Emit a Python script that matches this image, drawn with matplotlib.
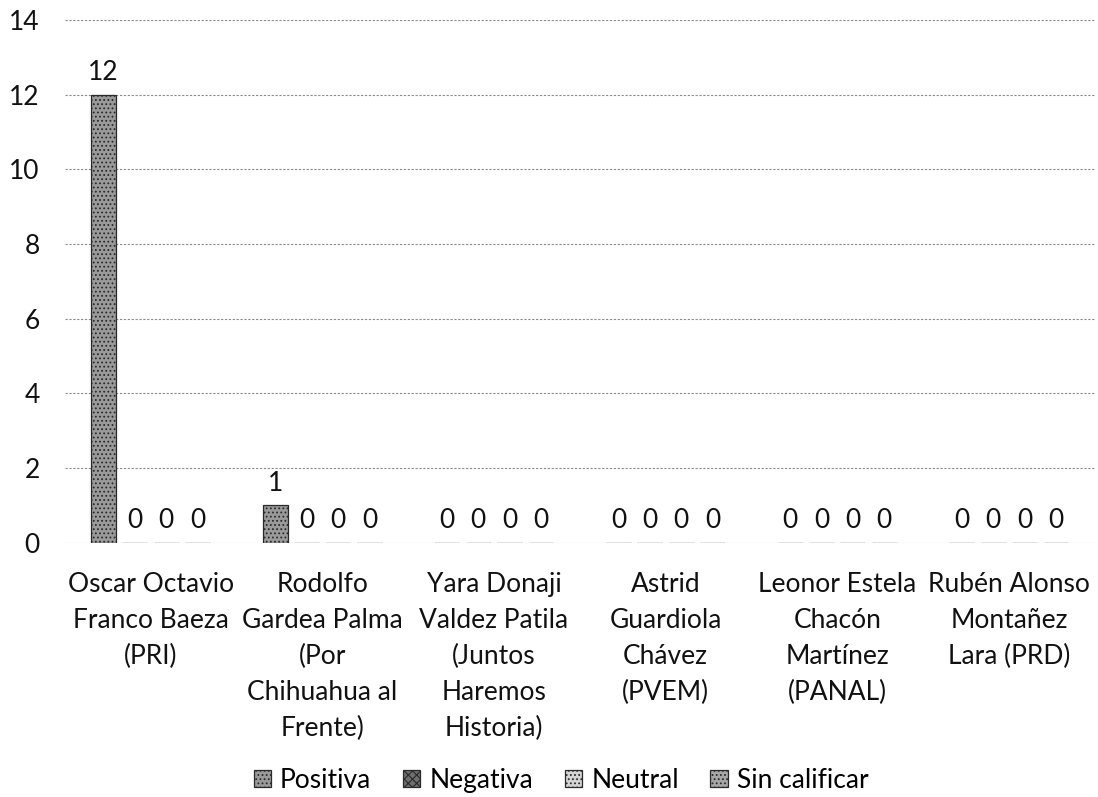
import numpy as np
import matplotlib.pyplot as plt

plt.rcParams['font.family'] = ['Lato', 'DejaVu Sans']
plt.rcParams['hatch.color'] = '#4a4a4a'
plt.rcParams['hatch.linewidth'] = 0.8

candidatos = ['Oscar Octavio\nFranco Baeza\n(PRI)',
              'Rodolfo\nGardea Palma\n(Por\nChihuahua al\nFrente)',
              'Yara Donaji\nValdez Patila\n(Juntos\nHaremos\nHistoria)',
              'Astrid\nGuardiola\nChávez\n(PVEM)',
              'Leonor Estela\nChacón\nMartínez\n(PANAL)',
              'Rubén Alonso\nMontañez\nLara (PRD)']
series = ['Positiva', 'Negativa', 'Neutral', 'Sin calificar']
positiva = [12, 1, 0, 0, 0, 0]
negativa = [0, 0, 0, 0, 0, 0]
neutral = [0, 0, 0, 0, 0, 0]
sin_calificar = [0, 0, 0, 0, 0, 0]
valores = [positiva, negativa, neutral, sin_calificar]

colores = ['#9a9a9a', '#6e6e6e', '#d4d4d4', '#a6a6a6']
tramas = ['....', 'xxxx', '....', '....']

fig = plt.figure(figsize=(10.98, 7.97), dpi=100)
ax = fig.add_axes([0.059, 0.319, 0.938, 0.656])

x = np.arange(len(candidatos))
paso = 0.183
ancho = 0.145
for i, (nombre, vals) in enumerate(zip(series, valores)):
    bars = ax.bar(x + (i - 1.5) * paso, vals, width=ancho, label=nombre,
                  color=colores[i], edgecolor='#2a2a2a', linewidth=0.9,
                  hatch=tramas[i], zorder=3)
    ax.bar_label(bars, padding=7, fontsize=19, color='#111111')

ax.set_xlim(-0.5, len(candidatos) - 0.5)
ax.set_ylim(0, 14)
ax.set_yticks(range(0, 15, 2))
ax.set_xticks(x)
ax.set_xticklabels(candidatos, fontsize=19, linespacing=1.55)
ax.tick_params(axis='x', length=0, pad=21, colors='#111111')
ax.tick_params(axis='y', length=0, pad=18, labelsize=19, colors='#111111')

ax.grid(axis='y', color='#8a8a8a', linestyle=(0, (2, 1.5)), linewidth=0.8,
        zorder=0)
ax.set_axisbelow(True)
for s in ax.spines.values():
    s.set_visible(False)

fig.legend(loc='center', bbox_to_anchor=(0.511, 0.021), ncol=4,
           frameon=False, fontsize=19, handlelength=0.65, handleheight=0.65,
           handletextpad=0.35, columnspacing=1.2)

fig.savefig('out.png', dpi=100)
